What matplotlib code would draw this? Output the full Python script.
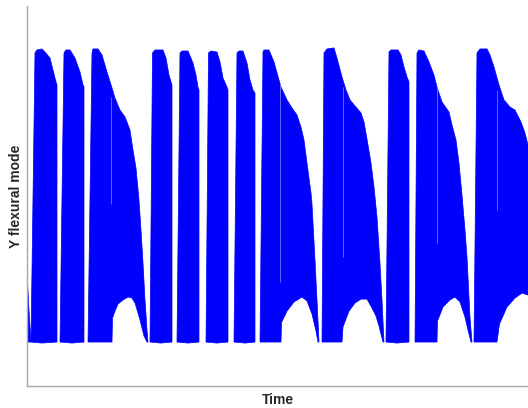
import matplotlib
matplotlib.use('Agg')
import matplotlib.pyplot as plt

# Envelope of the Y flexural mode response.
# Each burst: top edge and bottom edge as (time, amplitude) points,
# amplitude normalised so the peak is ~1.
burst0_top = [(0.00, -0.515), (0.04, -0.775), (0.08, -0.993)]
burst0_bottom = [(0.00, -0.515), (0.01, -0.993), (0.08, -0.993)]

burst1_top = [(0.08, -0.993), (0.16, 0.980), (0.20, 1.000), (0.30, 1.007), (0.36, 0.986),
              (0.46, 0.945), (0.52, 0.863), (0.58, 0.782), (0.60, 0.761), (0.60, -0.993)]
burst1_bottom = [(0.08, -0.993), (0.30, -1.000), (0.60, -0.993)]

burst2_top = [(0.66, -0.993), (0.74, 0.980), (0.78, 1.000), (0.86, 1.000), (0.96, 0.945),
              (1.06, 0.850), (1.12, 0.761), (1.14, 0.750), (1.14, -0.993)]
burst2_bottom = [(0.66, -0.993), (0.90, -1.000), (1.14, -0.993)]

burst3_top = [(1.22, -0.993), (1.30, 0.980), (1.32, 1.007), (1.42, 1.007), (1.50, 0.966),
              (1.60, 0.850), (1.70, 0.741), (1.76, 0.672), (1.86, 0.590), (1.96, 0.543),
              (2.06, 0.454), (2.12, 0.317), (2.18, 0.195), (2.24, -0.024), (2.28, -0.229),
              (2.32, -0.454), (2.36, -0.706), (2.40, -0.911), (2.42, -0.993)]
burst3_bottom = [(1.22, -0.993), (1.70, -0.993), (1.71, -0.830), (1.76, -0.782), (1.82, -0.734),
                 (1.92, -0.706), (2.02, -0.686), (2.10, -0.693), (2.16, -0.727), (2.22, -0.795),
                 (2.26, -0.843), (2.30, -0.898), (2.34, -0.952), (2.40, -0.993)]

burst4_top = [(2.46, -0.993), (2.51, 0.980), (2.56, 1.000), (2.72, 1.000), (2.78, 0.945),
              (2.84, 0.829), (2.90, 0.761), (2.90, -0.993)]
burst4_bottom = [(2.46, -0.993), (2.68, -1.000), (2.90, -0.993)]

burst5_top = [(3.00, -0.993), (3.06, 0.980), (3.10, 0.993), (3.22, 0.993), (3.32, 0.911),
              (3.38, 0.829), (3.42, 0.747), (3.44, 0.727), (3.44, -0.993)]
burst5_bottom = [(3.00, -0.993), (3.22, -1.000), (3.44, -0.993)]

burst6_top = [(3.58, -0.993), (3.63, 0.980), (3.68, 0.993), (3.80, 0.986), (3.86, 0.918),
              (3.92, 0.809), (4.00, 0.747), (4.02, 0.727), (4.02, -0.993)]
burst6_bottom = [(3.58, -0.993), (3.80, -1.000), (4.02, -0.993)]

burst7_top = [(4.14, -0.993), (4.20, 0.980), (4.24, 0.993), (4.32, 0.993), (4.40, 0.911),
              (4.46, 0.795), (4.52, 0.727), (4.56, 0.706), (4.56, -0.993)]
burst7_bottom = [(4.14, -0.993), (4.36, -1.000), (4.56, -0.993)]

burst8_top = [(4.66, -0.993), (4.72, 0.986), (4.74, 1.000), (4.84, 1.000), (4.94, 0.918),
              (5.04, 0.795), (5.08, 0.747), (5.20, 0.659), (5.30, 0.604), (5.40, 0.556),
              (5.48, 0.474), (5.54, 0.386), (5.60, 0.229), (5.68, 0.024), (5.70, -0.051),
              (5.76, -0.433), (5.80, -0.706), (5.84, -0.993)]
burst8_bottom = [(4.66, -0.993), (5.08, -0.993), (5.09, -0.860), (5.20, -0.782), (5.34, -0.720),
                 (5.50, -0.686), (5.60, -0.713), (5.70, -0.802), (5.78, -0.918), (5.82, -0.993)]

burst9_top = [(5.90, -0.993), (5.94, 0.980), (6.00, 1.007), (6.14, 1.014), (6.20, 0.945),
              (6.30, 0.816), (6.38, 0.727), (6.46, 0.659), (6.56, 0.618), (6.68, 0.570),
              (6.74, 0.509), (6.80, 0.392), (6.88, 0.229), (6.94, 0.065), (7.00, -0.140),
              (7.06, -0.454), (7.10, -0.706), (7.14, -0.993)]
burst9_bottom = [(5.90, -0.993), (6.30, -0.993), (6.32, -0.890), (6.44, -0.782), (6.56, -0.727),
                 (6.68, -0.700), (6.80, -0.700), (6.90, -0.761), (6.98, -0.816), (7.04, -0.884),
                 (7.10, -0.966), (7.12, -0.993)]

burst10_top = [(7.18, -0.993), (7.24, 0.986), (7.28, 1.000), (7.42, 1.000), (7.48, 0.966),
               (7.54, 0.884), (7.60, 0.816), (7.64, 0.782), (7.64, -0.993)]
burst10_bottom = [(7.18, -0.993), (7.40, -1.000), (7.64, -0.993)]

burst11_top = [(7.76, -0.993), (7.80, 0.980), (7.84, 1.000), (7.94, 0.993), (8.04, 0.918),
               (8.14, 0.829), (8.20, 0.747), (8.30, 0.645), (8.44, 0.577), (8.50, 0.488),
               (8.58, 0.386), (8.64, 0.229), (8.70, 0.010), (8.76, -0.229), (8.80, -0.413),
               (8.86, -0.823), (8.90, -0.993)]
burst11_bottom = [(7.76, -0.993), (8.20, -0.993), (8.21, -0.850), (8.32, -0.754), (8.46, -0.706),
                  (8.56, -0.686), (8.66, -0.720), (8.76, -0.823), (8.82, -0.911), (8.88, -0.993)]

burst12_top = [(8.94, -0.993), (9.00, 0.980), (9.06, 1.007), (9.20, 1.007), (9.26, 0.966),
               (9.34, 0.884), (9.44, 0.761), (9.54, 0.659), (9.66, 0.611), (9.76, 0.590),
               (9.88, 0.509), (9.96, 0.433), (10.02, 0.352)]
burst12_bottom = [(8.94, -0.993), (9.40, -0.993), (9.45, -0.870), (9.60, -0.754), (9.76, -0.693),
                  (9.90, -0.659), (10.02, -0.672)]

bursts = [
    (burst0_top, burst0_bottom), (burst1_top, burst1_bottom), (burst2_top, burst2_bottom),
    (burst3_top, burst3_bottom), (burst4_top, burst4_bottom), (burst5_top, burst5_bottom),
    (burst6_top, burst6_bottom), (burst7_top, burst7_bottom), (burst8_top, burst8_bottom),
    (burst9_top, burst9_bottom), (burst10_top, burst10_bottom), (burst11_top, burst11_bottom),
    (burst12_top, burst12_bottom),
]

# faint lighter streaks visible inside the long bursts
streak_t = [1.68, 5.06, 6.32, 8.20, 9.40]
streak_top = [0.68, 0.77, 0.75, 0.75, 0.73]
streak_bottom = [-0.05, -0.58, -0.41, -0.32, -0.09]

plt.rcParams['font.family'] = ['Liberation Sans', 'DejaVu Sans']

fig = plt.figure(figsize=(5.28, 4.08), dpi=100)
ax = fig.add_axes([27 / 528, 22 / 408, 501 / 528, 380 / 408])

for top, bottom in bursts:
    # closed outline: along the top edge, back along the bottom edge
    outline = top + bottom[::-1]
    ax.fill([p[0] for p in outline], [p[1] for p in outline],
            facecolor='#0000ff', edgecolor='#0000ff', linewidth=0.5)

ax.vlines(streak_t, streak_bottom, streak_top, colors='#7a7aff', linewidth=0.7, alpha=0.8)

ax.set_xlim(0, 10.02)
ax.set_ylim(-1.293, 1.300)
ax.set_xticks([])
ax.set_yticks([])
for side in ('top', 'right'):
    ax.spines[side].set_visible(False)
for side in ('left', 'bottom'):
    ax.spines[side].set_color('#a8a8a8')
    ax.spines[side].set_linewidth(1.0)

ax.set_xlabel('Time', fontsize=10, fontweight='bold', color='#262626', labelpad=5)
ax.set_ylabel('Y flexural mode', fontsize=10, fontweight='bold', color='#262626', labelpad=3)

fig.savefig('out.png', dpi=100)
